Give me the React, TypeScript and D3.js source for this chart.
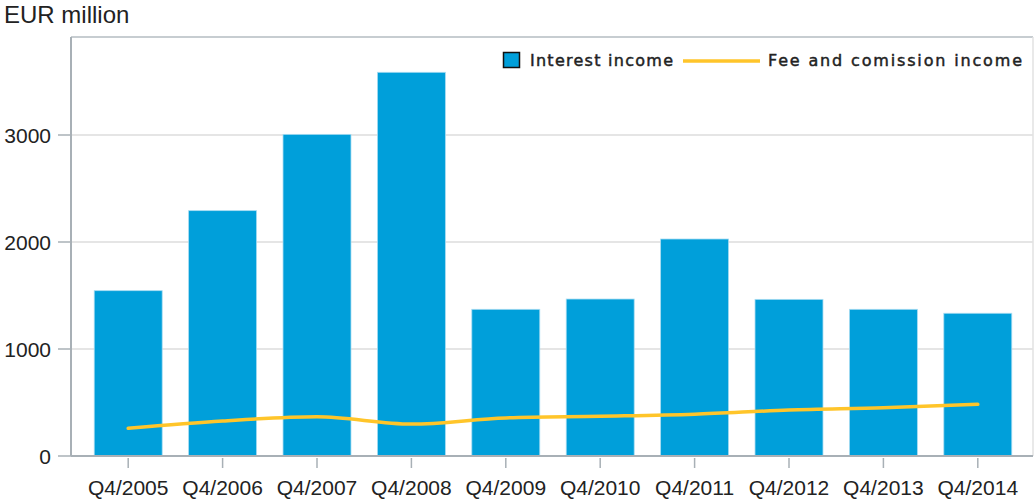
import React from "react";
import * as d3 from "d3";

const categories = ["Q4/2005", "Q4/2006", "Q4/2007", "Q4/2008", "Q4/2009", "Q4/2010", "Q4/2011", "Q4/2012", "Q4/2013", "Q4/2014"];
const interestIncome = [1545, 2293, 3006, 3586, 1371, 1467, 2028, 1464, 1371, 1334];
const feeIncome = [259, 327, 366, 298, 356, 371, 390, 430, 451, 483];
const yTicks = [0, 1000, 2000, 3000];
const seriesNames = ["Interest income", "Fee and comission income"];

const W = 1034;
const H = 502;
const left = 71;
const right = 1033;
const top = 37;
const bottom = 456;

export default function App() {
  const x = d3.scaleBand<string>().domain(categories).range([81, 1025]).paddingInner(0.28).paddingOuter(0.14);
  const y = d3.scaleLinear().domain([0, 3000]).range([bottom, 135]);
  const line = d3
    .line<number>()
    .x((_, i) => (x(categories[i]) as number) + x.bandwidth() / 2)
    .y((d) => y(d))
    .curve(d3.curveMonotoneX);

  return (
    <div style={{ position: "absolute", left: 0, top: 0 }}>
      <svg width={W} height={H} style={{ display: "block", background: "#fff" }}>
        <text x={4} y={23} fontFamily="Liberation Sans, Arial, sans-serif" fontSize={24} fill="#222">
          EUR million
        </text>
        {/* gridlines */}
        {yTicks.filter((t) => t > 0).map((t) => (
          <line key={t} x1={left} x2={right} y1={y(t)} y2={y(t)} stroke="#dcdcdc" strokeWidth={1.5} />
        ))}
        {/* frame top/right */}
        <line x1={left} x2={right} y1={top} y2={top} stroke="#b4bcc2" strokeWidth={1.5} />
        <line x1={right} x2={right} y1={top} y2={bottom} stroke="#e2e2e2" strokeWidth={1.5} />
        {/* bars */}
        {interestIncome.map((v, i) => (
          <rect
            key={categories[i]}
            x={x(categories[i])}
            y={y(v)}
            width={x.bandwidth()}
            height={bottom - y(v)}
            fill="#009fda"
            stroke="#a8dcf2"
            strokeWidth={0.8}
          />
        ))}
        {/* line */}
        <path d={line(feeIncome) || ""} fill="none" stroke="#ffc52a" strokeWidth={3.5} strokeLinecap="round" strokeLinejoin="round" />
        {/* axes */}
        <line x1={left} x2={left} y1={top} y2={bottom} stroke="#a8b0b6" strokeWidth={2} />
        <line x1={left} x2={right} y1={bottom} y2={bottom} stroke="#a8b0b6" strokeWidth={2} />
        {yTicks.map((t) => (
          <g key={t}>
            <line x1={58} x2={left} y1={y(t)} y2={y(t)} stroke="#a8b0b6" strokeWidth={1.5} />
            <text x={51} y={y(t)} dy="0.36em" textAnchor="end" fontFamily="Liberation Sans, Arial, sans-serif" fontSize={21} fill="#222">
              {t}
            </text>
          </g>
        ))}
        {categories.map((c) => {
          const cx = (x(c) as number) + x.bandwidth() / 2;
          return (
            <g key={c}>
              <line x1={cx} x2={cx} y1={458} y2={468} stroke="#a8b0b6" strokeWidth={1.5} />
              <text x={cx} y={495} textAnchor="middle" fontFamily="Liberation Sans, Arial, sans-serif" fontSize={21} fill="#222">
                {c}
              </text>
            </g>
          );
        })}
        {/* legend */}
        <rect x={503.5} y={52.5} width={16} height={15} fill="#009fda" stroke="#111" strokeWidth={1.5} />
        <text x={530} y={66} fontFamily="DejaVu Sans, Verdana, sans-serif" fontSize={16} fill="#222" stroke="#222" strokeWidth={0.45} textLength={143} lengthAdjust="spacing">
          {seriesNames[0]}
        </text>
        <line x1={683} x2={760} y1={61} y2={61} stroke="#ffc52a" strokeWidth={3.5} />
        <text x={768} y={66} fontFamily="DejaVu Sans, Verdana, sans-serif" fontSize={16} fill="#222" stroke="#222" strokeWidth={0.45} textLength={254} lengthAdjust="spacing">
          {seriesNames[1]}
        </text>
      </svg>
    </div>
  );
}
